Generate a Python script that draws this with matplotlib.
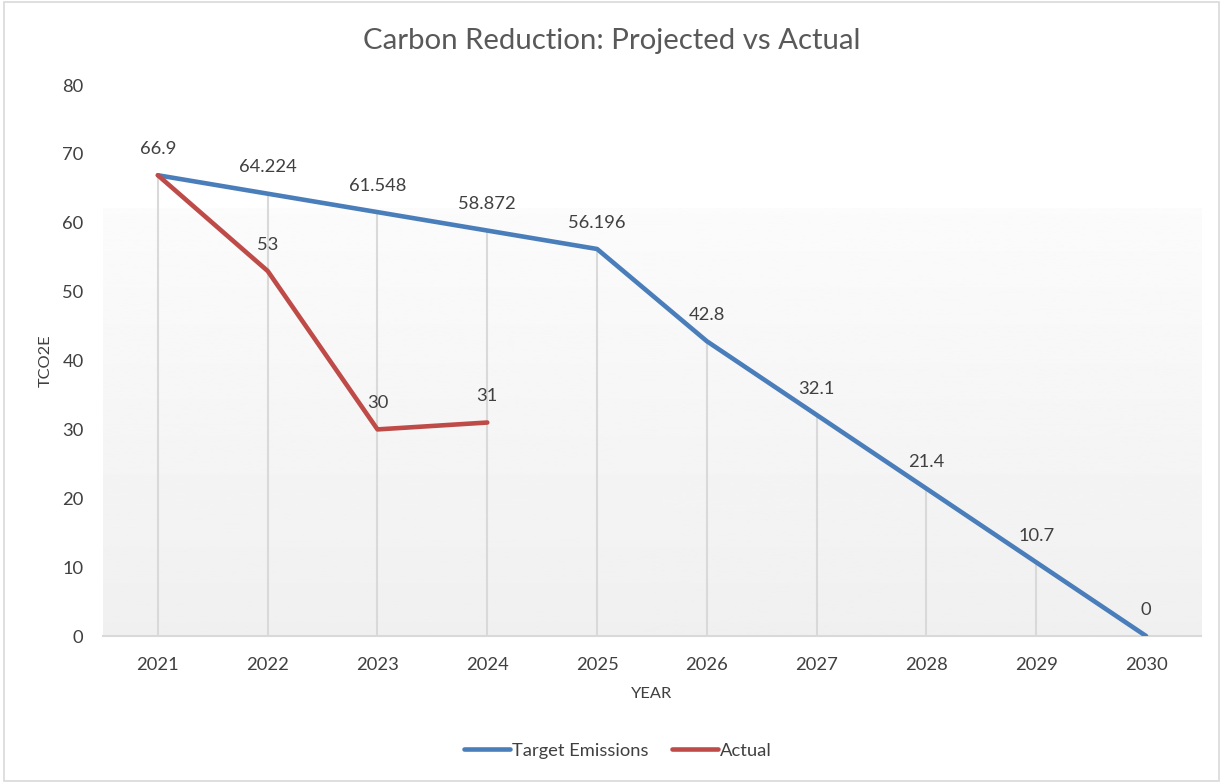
import numpy as np
import matplotlib.pyplot as plt

# data
years = ['2021', '2022', '2023', '2024', '2025', '2026', '2027', '2028', '2029', '2030']
target = [66.9, 64.224, 61.548, 58.872, 56.196, 42.8, 32.1, 21.4, 10.7, 0]
actual = [66.9, 53, 30, 31]

blue = '#4a7ebb'
red = '#be4b48'
txt = '#404040'

plt.rcParams['font.family'] = ['Lato', 'DejaVu Sans']

fig = plt.figure(figsize=(12.23, 7.83), dpi=100)
ax = fig.add_axes([0.0842, 0.1877, 0.8978, 0.7037])

x = np.arange(len(years))

# plot-area gradient fill (white -> light gray)
grad = np.linspace(0.94, 0.985, 256).reshape(-1, 1)
ax.imshow(grad, extent=(-0.5, len(years) - 0.5, 0, 62), aspect='auto',
          cmap='gray', vmin=0, vmax=1, origin='lower', zorder=0)

# drop lines
ax.vlines(x, 0, target, color='#d9d9d9', lw=1.5, zorder=1)

ax.plot(x, target, color=blue, lw=3.3, solid_capstyle='round', label='Target Emissions', zorder=3)
ax.plot(x[:len(actual)], actual, color=red, lw=3.3, solid_capstyle='round', label='Actual', zorder=3)

for xi, v in zip(x, target):
    ax.annotate(f'{v:g}', (xi, v), xytext=(0, 19), textcoords='offset points',
                ha='center', va='center', fontsize=13.2, color=txt)
for xi, v in zip(x[1:len(actual)], actual[1:]):
    ax.annotate(f'{v:g}', (xi, v), xytext=(0, 19), textcoords='offset points',
                ha='center', va='center', fontsize=13.2, color=txt)

ax.set_xlim(-0.5, len(years) - 0.5)
ax.set_ylim(0, 80)
ax.set_xticks(x)
ax.set_xticklabels(years)
ax.set_yticks(range(0, 81, 10))
ax.tick_params(axis='both', length=0, labelsize=13.2, labelcolor=txt)
ax.tick_params(axis='x', pad=15)
ax.tick_params(axis='y', pad=14)
for s in ['top', 'right', 'left']:
    ax.spines[s].set_visible(False)
ax.spines['bottom'].set_color('#d9d9d9')
ax.spines['bottom'].set_linewidth(1.5)
ax.set_facecolor('none')

ax.set_xlabel('YEAR', fontsize=11.8, color=txt, labelpad=10)
ax.set_ylabel('TCO2E', fontsize=11.8, color=txt, labelpad=7)

fig.text(0.5, 0.947, 'Carbon Reduction: Projected vs Actual', ha='center', va='center',
         fontsize=21.2, color='#595959')

fig.legend(loc='center', bbox_to_anchor=(0.505, 0.041), ncol=2, frameon=False,
           fontsize=13.2, handlelength=2.5, handletextpad=0.1, columnspacing=1.3,
           labelcolor=txt)

# outer border
fig.patches.append(plt.Rectangle((0.003, 0.003), 0.994, 0.994, transform=fig.transFigure,
                                 fill=False, edgecolor='#d9d9d9', lw=1.2))

fig.savefig('out.png', dpi=100)
